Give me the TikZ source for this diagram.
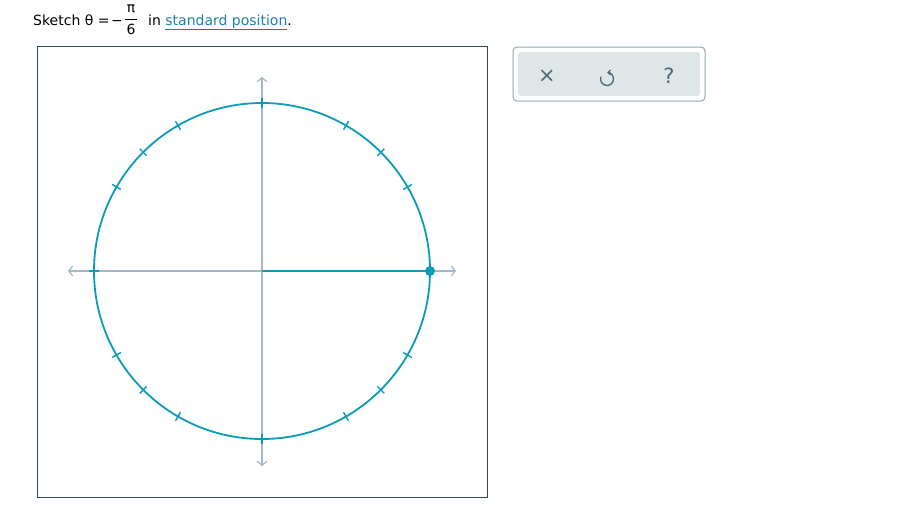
\documentclass[tikz,border=0pt]{standalone}
\usepackage{fontspec}
\setmainfont{DejaVu Sans}
\usetikzlibrary{arrows.meta}
\definecolor{circteal}{HTML}{0A9BB8}
\definecolor{axisgray}{HTML}{A3B8C4}
\definecolor{framedark}{HTML}{2E4A58}
\definecolor{barfill}{HTML}{DFE6E8}
\definecolor{barline}{HTML}{93A7B1}
\definecolor{icongray}{HTML}{4D6977}
\definecolor{linkteal}{HTML}{1F7FA0}

\begin{document}
\begin{tikzpicture}
  [
    x=1pt,y=-1pt,
    font=\fontsize{14}{17}\selectfont,
    txt/.style={inner sep=0pt},
    axis/.style={
      draw=axisgray,
      line width=1.2pt,
      {Straight Barb[length=4pt,width=10pt]}-{Straight Barb[length=4pt,width=10pt]}
    },
    unit/.style={draw=circteal,line width=1.8pt},
    notch/.style={draw=circteal,line width=1.4pt},
    dot/.style={circle,fill=circteal,inner sep=0pt,minimum size=10pt},
    icon/.style={text=icongray,font=\fontsize{21}{24}\selectfont},
  ]
  \useasboundingbox (0,0) rectangle (899,531);

  % prompt
  \node[txt,anchor=base west] (prompt) at (33,25) {Sketch θ =};
  \node[txt,anchor=base] (minus) at (117,25) {−};
  \node[txt,anchor=base] (numer) at (131,12.5) {π};
  \node[txt,anchor=base] (denom) at (131,34) {6};
  \draw[line width=0.8pt] (125,19) -- (137,19);
  \node[txt,anchor=base west] (prompt-end) at (148,25)
    {in \textcolor{linkteal}{\underline{standard position}}.};

  % graph frame
  \draw[framedark,line width=1pt] (37,46) rectangle (487,497);

  \coordinate (origin) at (262,271);
  \coordinate (x-left)   at (68,271);
  \coordinate (x-right)  at (456,271);
  \coordinate (y-top)    at (262,77);
  \coordinate (y-bottom) at (262,466);

  \draw[axis] (x-left) -- (x-right);
  \draw[axis] (y-top) -- (y-bottom);

  \draw[unit] (origin) circle[radius=168];
  \foreach \a in {30,45,60,90,120,135,150,180,210,225,240,270,300,315,330}
    \draw[notch] ([shift={(\a:163)}]origin) -- ([shift={(\a:173)}]origin);

  \node[dot] (terminal) at (430,271) {};
  \draw[unit,line width=2.2pt] (origin) -- (terminal);

  % toolbar
  \node[draw=barline,rounded corners=4pt,line width=1pt,
        minimum width=192pt,minimum height=54pt] (toolbar) at (609,74) {};
  \node[fill=barfill,rounded corners=3pt,
        minimum width=182pt,minimum height=44pt] (toolbar-in) at (609,74) {};
  \node[icon] (clear) at (547,76) {×};
  \coordinate (undo) at (607,79);
  \draw[icongray,line width=1.3pt,{Straight Barb[length=2.5pt,width=5pt]}-]
    ([shift={(-90:6.5)}]undo) arc[start angle=-90,end angle=200,radius=6.5];
  \node[icon] (help) at (669,76) {?};
\end{tikzpicture}
\end{document}
